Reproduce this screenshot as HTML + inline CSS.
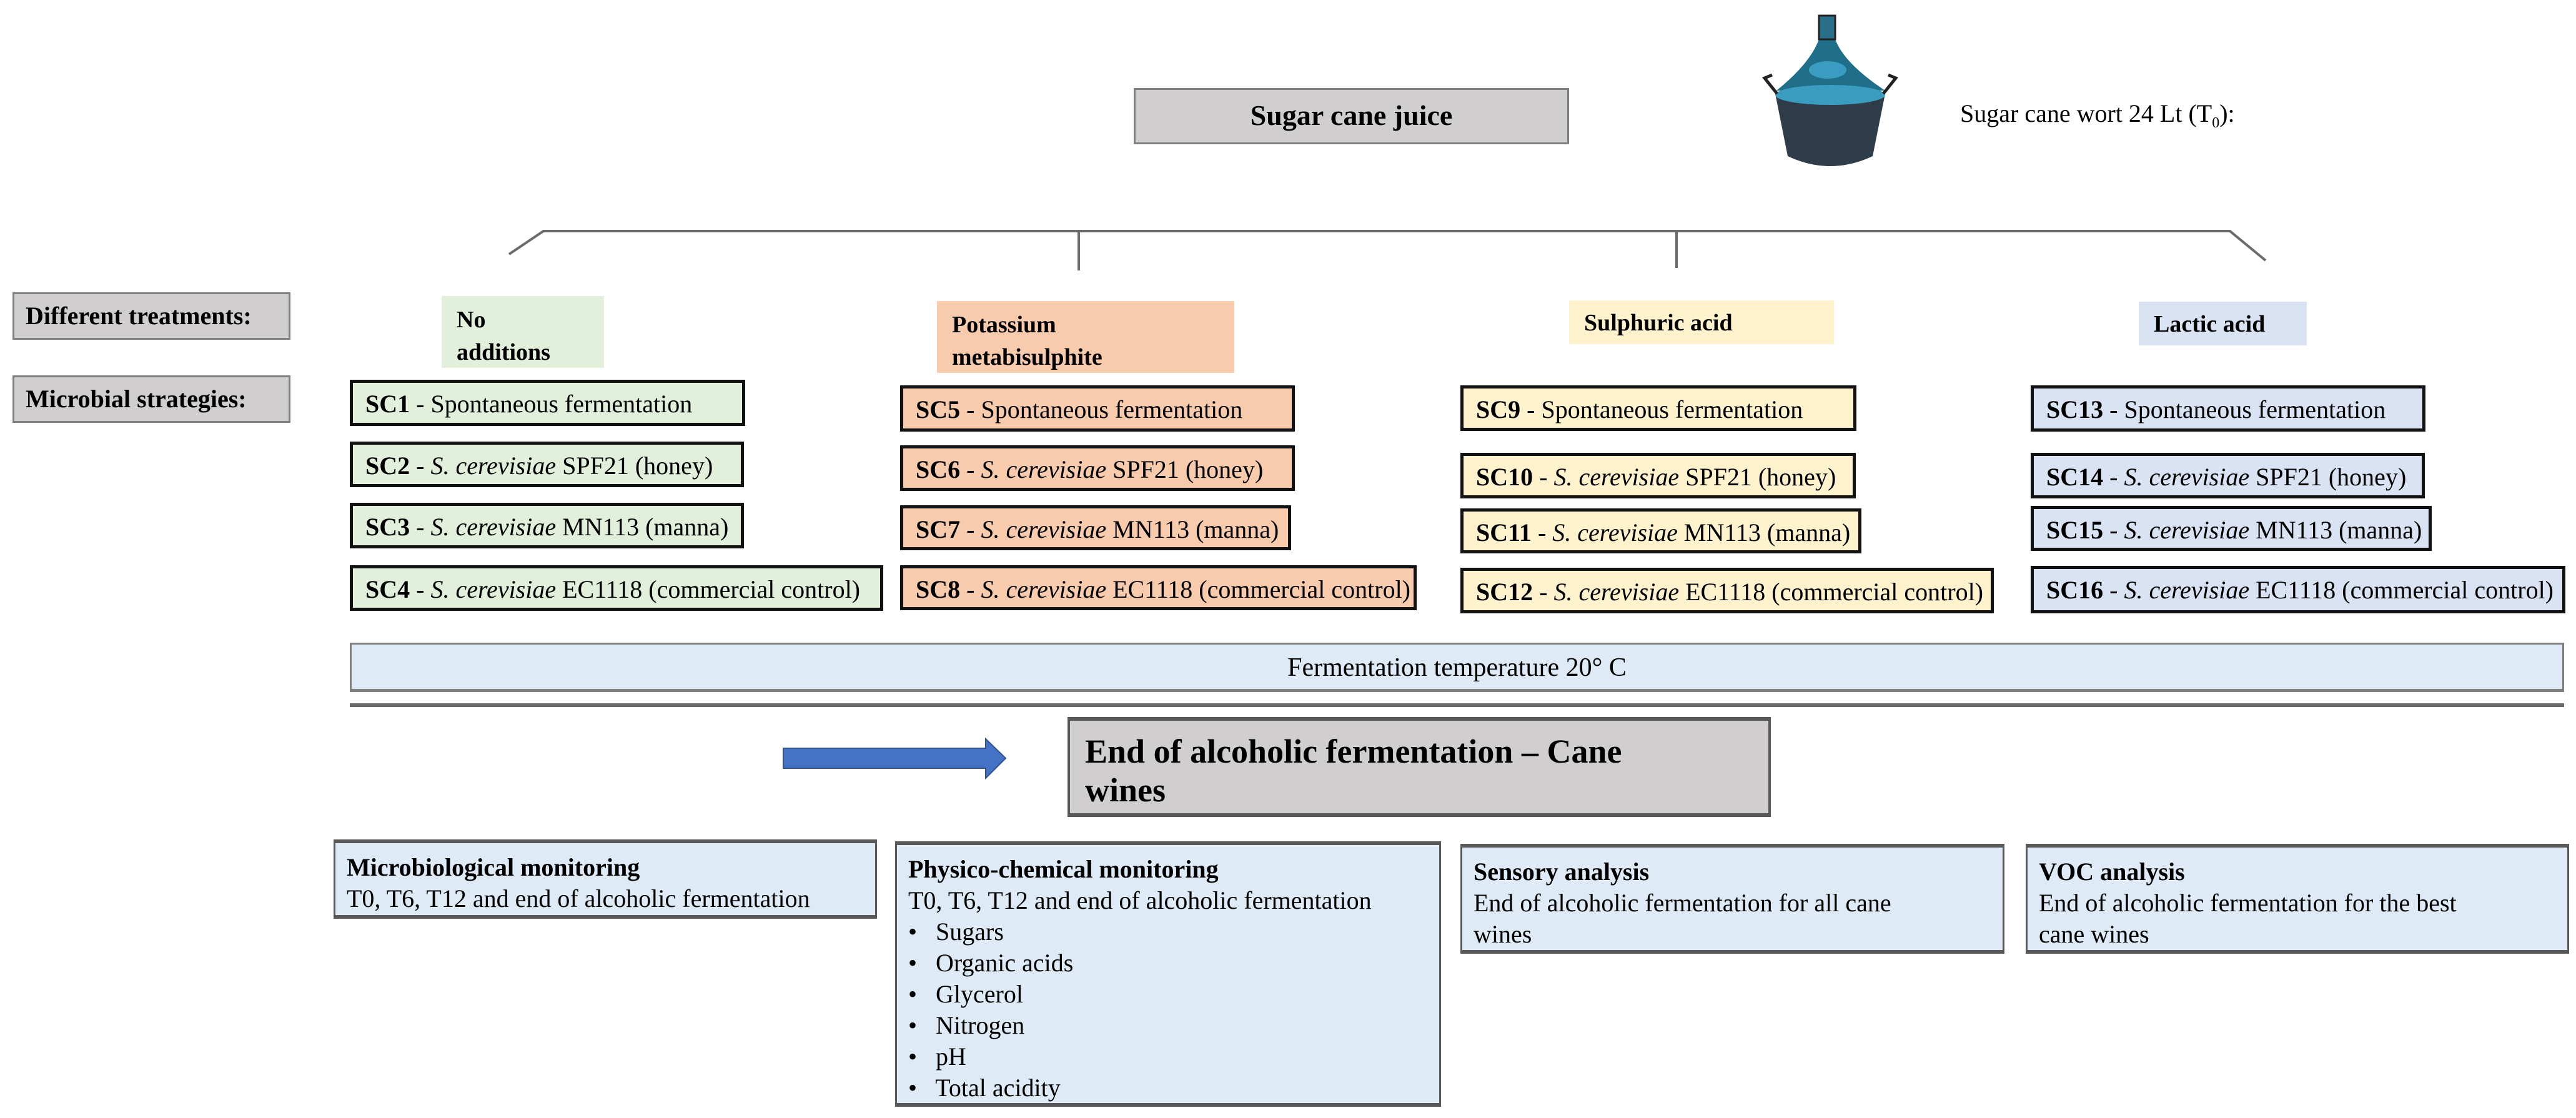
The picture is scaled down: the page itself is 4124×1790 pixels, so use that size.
<!DOCTYPE html>
<html><head><meta charset="utf-8"><style>
*{font-family:"Liberation Serif","DejaVu Serif",serif !important}
body{margin:0;width:4124px;height:1790px;background:#fff;position:relative;overflow:hidden;color:#000}
.b{position:absolute;box-sizing:border-box;font-size:40px;line-height:50px;white-space:nowrap}
.g{background:#d0cece;border:3px solid #7f7f7f;font-weight:bold;padding:10px 0 0 18px}
.t{font-weight:bold;font-size:38px;line-height:52px;padding:12px 0 0 24px}
.s{border:5px solid #111;padding:9px 0 0 20px}
.gr{background:#e2efda}.or{background:#f8cbad}.ye{background:#fff2cc}.bl{background:#dae3f3}
.lb{background:#deebf7;border:3px solid #595959;border-top-width:6px;border-bottom-width:6px;padding:14px 0 0 18px}
</style></head><body>
<svg style="position:absolute;left:0;top:0" width="4124" height="1790">
<polyline points="815,407 870,370 3570,370 3627,417" fill="none" stroke="#6b6b6b" stroke-width="4"/>
<line x1="1727" y1="370" x2="1727" y2="433" stroke="#6b6b6b" stroke-width="4"/>
<line x1="2684" y1="370" x2="2684" y2="429" stroke="#6b6b6b" stroke-width="4"/>
<line x1="560" y1="1129" x2="4105" y2="1129" stroke="#6b6b6b" stroke-width="6"/>
<polygon points="1254,1198 1578,1198 1578,1183 1610,1214 1578,1246 1578,1230 1254,1230" fill="#4472c4" stroke="#2f528f" stroke-width="2"/>
<path d="M2842,150 L3018,150 L2998,250 Q2930,282 2862,250 Z" fill="#2f3d4a"/>
<path d="M2913,60 L2937,60 Q2950,100 3018,145 L2844,145 Q2900,100 2913,60 Z" fill="#1f6f8a"/>
<rect x="2912" y="25" width="26" height="38" fill="#2a6f88" stroke="#222" stroke-width="3"/>
<ellipse cx="2926" cy="112" rx="30" ry="14" fill="#3b9cc2"/>
<ellipse cx="2930" cy="152" rx="88" ry="16" fill="#3a9cbe"/>
<path d="M2845,150 L2825,125 L2837,120" fill="none" stroke="#222" stroke-width="5"/>
<path d="M3015,150 L3035,125 L3023,120" fill="none" stroke="#222" stroke-width="5"/>
</svg>
<div class="b g" style="left:1815px;top:141px;width:697px;height:90px;text-align:center;padding:16px 0 0 0;font-size:46px">Sugar cane juice</div>
<div class="b" style="left:3138px;top:157px;font-size:40px">Sugar cane wort 24 Lt (T<sub style="font-size:24px">0</sub>):</div>
<div class="b g" style="left:20px;top:468px;width:445px;height:76px">Different treatments:</div>
<div class="b g" style="left:20px;top:601px;width:445px;height:76px">Microbial strategies:</div>
<div class="b t gr" style="left:707px;top:474px;width:260px;height:115px">No<br>additions</div>
<div class="b t or" style="left:1500px;top:482px;width:476px;height:115px">Potassium<br>metabisulphite</div>
<div class="b t ye" style="left:2512px;top:481px;width:424px;height:70px;padding-top:10px">Sulphuric acid</div>
<div class="b t bl" style="left:3424px;top:483px;width:269px;height:70px;padding-top:10px">Lactic acid</div>

<div class="b s gr" style="left:560px;top:608px;width:633px;height:74px"><b>SC1</b> - Spontaneous fermentation</div>
<div class="b s gr" style="left:560px;top:707px;width:631px;height:73px"><b>SC2</b> - <i>S. cerevisiae</i> SPF21 (honey)</div>
<div class="b s gr" style="left:560px;top:805px;width:631px;height:73px"><b>SC3</b> - <i>S. cerevisiae</i> MN113 (manna)</div>
<div class="b s gr" style="left:560px;top:905px;width:854px;height:73px"><b>SC4</b> - <i>S. cerevisiae</i> EC1118 (commercial control)</div>

<div class="b s or" style="left:1441px;top:617px;width:632px;height:74px"><b>SC5</b> - Spontaneous fermentation</div>
<div class="b s or" style="left:1441px;top:713px;width:632px;height:73px"><b>SC6</b> - <i>S. cerevisiae</i> SPF21 (honey)</div>
<div class="b s or" style="left:1441px;top:809px;width:626px;height:72px"><b>SC7</b> - <i>S. cerevisiae</i> MN113 (manna)</div>
<div class="b s or" style="left:1441px;top:905px;width:827px;height:72px"><b>SC8</b> - <i>S. cerevisiae</i> EC1118 (commercial control)</div>

<div class="b s ye" style="left:2338px;top:617px;width:634px;height:73px"><b>SC9</b> - Spontaneous fermentation</div>
<div class="b s ye" style="left:2338px;top:725px;width:633px;height:73px"><b>SC10</b> - <i>S. cerevisiae</i> SPF21 (honey)</div>
<div class="b s ye" style="left:2338px;top:814px;width:642px;height:72px"><b>SC11</b> - <i>S. cerevisiae</i> MN113 (manna)</div>
<div class="b s ye" style="left:2338px;top:909px;width:854px;height:73px"><b>SC12</b> - <i>S. cerevisiae</i> EC1118 (commercial control)</div>

<div class="b s bl" style="left:3251px;top:617px;width:632px;height:74px"><b>SC13</b> - Spontaneous fermentation</div>
<div class="b s bl" style="left:3251px;top:725px;width:631px;height:73px"><b>SC14</b> - <i>S. cerevisiae</i> SPF21 (honey)</div>
<div class="b s bl" style="left:3251px;top:810px;width:642px;height:72px"><b>SC15</b> - <i>S. cerevisiae</i> MN113 (manna)</div>
<div class="b s bl" style="left:3251px;top:906px;width:856px;height:76px"><b>SC16</b> - <i>S. cerevisiae</i> EC1118 (commercial control)</div>

<div class="b" style="left:560px;top:1029px;width:3545px;height:79px;background:#deebf7;border:3px solid #7f7f7f;border-bottom-width:5px;text-align:center;padding-top:12px;font-size:42px">Fermentation temperature 20° C</div>

<div class="b" style="left:1709px;top:1148px;width:1126px;height:160px;background:#d0cece;border:4px solid #595959;border-top-width:6px;border-bottom-width:6px;font-weight:bold;font-size:54px;line-height:62px;padding:18px 0 0 24px">End of alcoholic fermentation – Cane<br>wines</div>

<div class="b lb" style="left:534px;top:1344px;width:870px;height:127px"><b>Microbiological monitoring</b><br>T0, T6, T12 and end of alcoholic fermentation</div>
<div class="b lb" style="left:1433px;top:1347px;width:874px;height:425px"><b>Physico-chemical monitoring</b><br>T0, T6, T12 and end of alcoholic fermentation<br>•&nbsp;&nbsp; Sugars<br>•&nbsp;&nbsp; Organic acids<br>•&nbsp;&nbsp; Glycerol<br>•&nbsp;&nbsp; Nitrogen<br>•&nbsp;&nbsp; pH<br>•&nbsp;&nbsp; Total acidity</div>
<div class="b lb" style="left:2338px;top:1351px;width:871px;height:176px"><b>Sensory analysis</b><br>End of alcoholic fermentation for all cane<br>wines</div>
<div class="b lb" style="left:3243px;top:1351px;width:870px;height:176px"><b>VOC analysis</b><br>End of alcoholic fermentation for the best<br>cane wines</div>
</body></html>
